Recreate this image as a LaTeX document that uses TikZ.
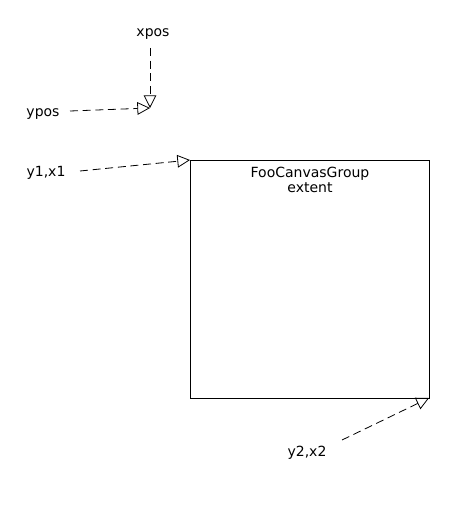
\documentclass[tikz,border=0pt]{standalone}
\usepackage{fontspec}
\setmainfont{DejaVu Sans}
\usetikzlibrary{arrows.meta}
\begin{document}
\begin{tikzpicture}[x=0.75pt,y=-0.75pt,
  lbl/.style={font=\fontsize{10.5}{12.5}\selectfont, inner sep=0pt},
  ptr/.style={draw, line width=0.6pt, dash pattern=on 6pt off 3.5pt, -{Triangle[open,length=9.5pt,width=9.5pt]}}]
\useasboundingbox (0,0) rectangle (470,510);
\draw[line width=0.6pt] (190,160) rectangle (429,398);
\node[lbl, align=center, anchor=north] (box) at (310,167) {FooCanvasGroup\\[-1pt]extent};
\coordinate (tl) at (190,160);
\coordinate (br) at (429,398);
\coordinate (pos) at (150,108);
\node[lbl] (xpos) at (153,34) {xpos};
\node[lbl] (ypos) at (43,114) {ypos};
\node[lbl] (y1) at (46,173) {y1,x1};
\node[lbl] (y2) at (307,453) {y2,x2};
\coordinate (xs) at (150,48);
\coordinate (ys) at (70,111);
\coordinate (y1s) at (80,171);
\coordinate (y2s) at (342,440);
\draw[ptr] (xs) -- (pos);
\draw[ptr] (ys) -- (pos);
\draw[ptr] (y1s) -- (tl);
\draw[ptr] (y2s) -- (br);
\end{tikzpicture}
\end{document}
